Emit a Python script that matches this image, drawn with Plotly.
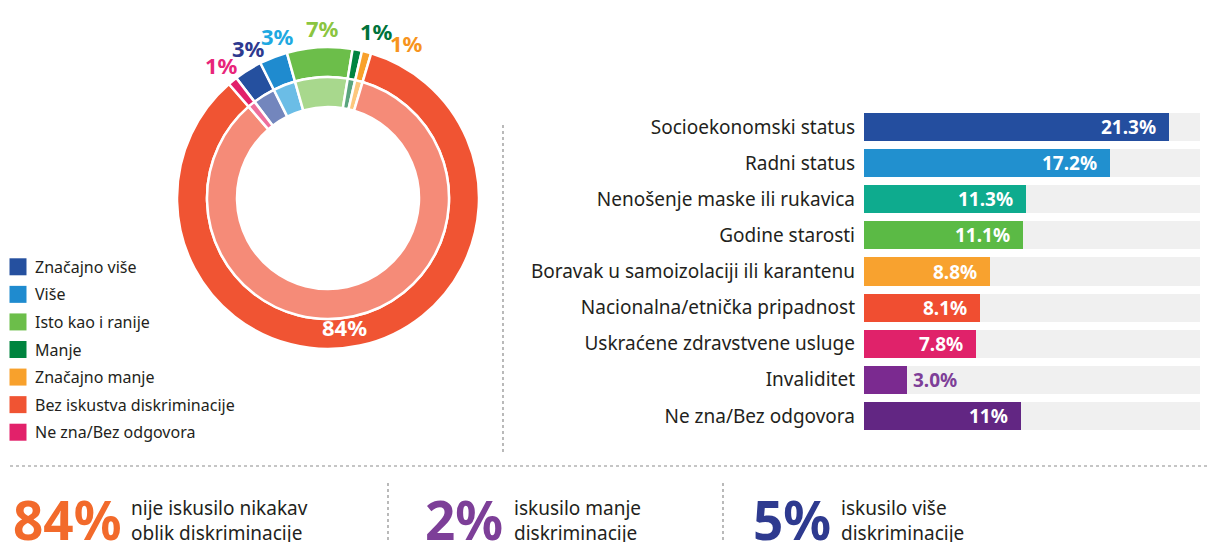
import math
import plotly.graph_objects as go

FONT = "Noto Sans"
DARK = "#231F20"

# ---- donut: change in experienced discrimination ----
donut_labels = ["Značajno više", "Više", "Isto kao i ranije", "Manje",
                "Značajno manje", "Bez iskustva diskriminacije", "Ne zna/Bez odgovora"]
donut_values = [3, 3, 7, 1, 1, 84, 1]
outer_colors = ["#25509F", "#1F8BCF", "#6CBE4A", "#00843F", "#F8A12C", "#F05433", "#E2216A"]
inner_colors = ["#7386BD", "#6BBDE6", "#A8D88D", "#5AA57E", "#FDC77D", "#F58B78", "#EE6E9B"]
label_colors = ["#2E3A8F", "#1FA9E1", "#8BC540", "#00733A", "#F7941D", "#FFFFFF", "#E8257A"]

# ---- bars: grounds of discrimination ----
bar_categories = ["Socioekonomski status", "Radni status", "Nenošenje maske ili rukavica",
                  "Godine starosti", "Boravak u samoizolaciji ili karantenu",
                  "Nacionalna/etnička pripadnost", "Uskraćene zdravstvene usluge",
                  "Invaliditet", "Ne zna/Bez odgovora"]
bar_values = [21.3, 17.2, 11.3, 11.1, 8.8, 8.1, 7.8, 3.0, 11]
bar_labels = ["21.3%", "17.2%", "11.3%", "11.1%", "8.8%", "8.1%", "7.8%", "3.0%", "11%"]
bar_colors = ["#244E9F", "#2190CF", "#0EAB8E", "#5BBA45", "#F8A22F",
              "#F04E31", "#E0226A", "#7B2A90", "#622683"]

# ---- summary figures along the bottom ----
summary_numbers = ["84%", "2%", "5%"]
summary_texts = ["nije iskusilo nikakav<br>oblik diskriminacije",
                 "iskusilo manje<br>diskriminacije",
                 "iskusilo više<br>diskriminacije"]
summary_colors = ["#F26A2B", "#7D3F98", "#2E3A8F"]

W, H = 1209, 542


def px(x):
    return x / W


def py(y):
    return 1 - y / H


# donut geometry (pixels)
CX, CY = 328, 198
R_OUT, R_MID, R_IN = 151, 121, 91
START = -37.4  # clockwise from 12 o'clock

fig = go.Figure()

fig.add_trace(go.Pie(
    labels=donut_labels, values=donut_values, sort=False, direction="clockwise",
    rotation=START, hole=R_MID / R_OUT, textinfo="none", hoverinfo="label+value",
    marker=dict(colors=outer_colors, line=dict(color="white", width=2.5)),
    domain=dict(x=[px(CX - R_OUT), px(CX + R_OUT)], y=[py(CY + R_OUT), py(CY - R_OUT)]),
    showlegend=False,
))
fig.add_trace(go.Pie(
    labels=donut_labels, values=donut_values, sort=False, direction="clockwise",
    rotation=START, hole=R_IN / R_MID, textinfo="none", hoverinfo="label+value",
    marker=dict(colors=inner_colors, line=dict(color="white", width=2.5)),
    domain=dict(x=[px(CX - R_MID), px(CX + R_MID)], y=[py(CY + R_MID), py(CY - R_MID)]),
    showlegend=False,
))

annotations = []

# slice labels: placed at each slice's mid-angle, small ones spread apart
label_nudge = [4, 4, 1.4, 5, 12, 4.7, 0.5]
label_radius = [170, 170, 170, 174, 174, 130, 170]
total = sum(donut_values)
acc = START
for i, v in enumerate(donut_values):
    span = 360 * v / total
    mid = acc + span / 2
    acc += span
    if i == 6:
        mid -= 360
    ang = math.radians(mid + label_nudge[i])
    r = label_radius[i]
    annotations.append(dict(
        x=px(CX + r * math.sin(ang)), y=py(CY - r * math.cos(ang)),
        xref="paper", yref="paper", showarrow=False,
        text=f"<b>{v}%</b>", font=dict(family=FONT, size=22, color=label_colors[i]),
        xanchor="center", yanchor="middle", borderpad=0,
    ))

# legend built from squares + labels
fig.add_trace(go.Scatter(
    x=[18] * len(donut_labels), y=donut_labels, mode="markers",
    marker=dict(symbol="square", size=17, color=outer_colors),
    xaxis="x2", yaxis="y2", showlegend=False, hoverinfo="skip", cliponaxis=False,
))
for lab in donut_labels:
    annotations.append(dict(
        x=33, y=lab, xref="x2", yref="y2", showarrow=False, text=lab,
        font=dict(family=FONT, size=16, color=DARK), xanchor="left", yanchor="middle",
    ))

# bar chart: grey tracks then the values
TRACK = 23.5
fig.add_trace(go.Bar(
    x=[TRACK] * len(bar_categories), y=bar_categories, orientation="h",
    marker=dict(color="#F0F0F0", line=dict(width=0)), width=0.78,
    hoverinfo="skip", showlegend=False,
))
fig.add_trace(go.Bar(
    x=bar_values, y=bar_categories, orientation="h",
    marker=dict(color=bar_colors, line=dict(width=0)), width=0.78,
    hovertemplate="%{y}: %{x}%<extra></extra>", showlegend=False,
))
for cat, v, lab in zip(bar_categories, bar_values, bar_labels):
    inside = v > 5
    annotations.append(dict(
        x=v, y=cat, xref="x", yref="y", showarrow=False, text=f"<b>{lab}</b>",
        font=dict(family=FONT, size=19, color="white" if inside else "#7E3F98"),
        xanchor="right" if inside else "left", xshift=-11 if inside else 4,
        yanchor="middle",
    ))

# bottom summary
num_x = [11, 423, 751]
txt_x = [129, 512, 839]
for n, t, c, nx, tx in zip(summary_numbers, summary_texts, summary_colors, num_x, txt_x):
    annotations.append(dict(
        x=px(nx), y=py(519), xref="paper", yref="paper", showarrow=False,
        text=f"<b>{n}</b>", font=dict(family=FONT, size=53, color=c),
        xanchor="left", yanchor="middle",
    ))
    annotations.append(dict(
        x=px(tx), y=py(520), xref="paper", yref="paper", showarrow=False,
        text=t, font=dict(family=FONT, size=19, color=DARK),
        xanchor="left", yanchor="middle", align="left",
    ))

dot = dict(color="#8C8C8C", width=1.2, dash="dot")
shapes = [
    dict(type="line", xref="paper", yref="paper", x0=px(10), x1=1, y0=py(466), y1=py(466), line=dot),
    dict(type="line", xref="paper", yref="paper", x0=px(503), x1=px(503), y0=py(125), y1=py(455), line=dot),
    dict(type="line", xref="paper", yref="paper", x0=px(388), x1=px(388), y0=py(483), y1=0, line=dot),
    dict(type="line", xref="paper", yref="paper", x0=px(723), x1=px(723), y0=py(483), y1=0, line=dot),
]

n_leg = len(donut_labels)
fig.update_layout(
    width=W, height=H, margin=dict(l=0, r=0, t=0, b=0),
    paper_bgcolor="white", plot_bgcolor="white",
    font=dict(family=FONT, color=DARK),
    barmode="overlay", bargap=0,
    xaxis=dict(domain=[px(864), px(1200)], range=[0, TRACK], visible=False, fixedrange=True),
    yaxis=dict(domain=[py(434), py(109)], type="category", categoryorder="array",
               categoryarray=bar_categories, autorange="reversed", ticks="",
               showgrid=False, showline=False, zeroline=False,
               tickfont=dict(family=FONT, size=19, color=DARK), ticklabelstandoff=8),
    xaxis2=dict(domain=[0, 0.2], range=[0, 0.2 * W], visible=False, fixedrange=True),
    yaxis2=dict(domain=[py(446), py(253)], type="category", categoryorder="array",
                categoryarray=donut_labels, range=[n_leg - 0.5, -0.5], visible=False),
    annotations=annotations, shapes=shapes,
)

fig.write_html("out.html")
